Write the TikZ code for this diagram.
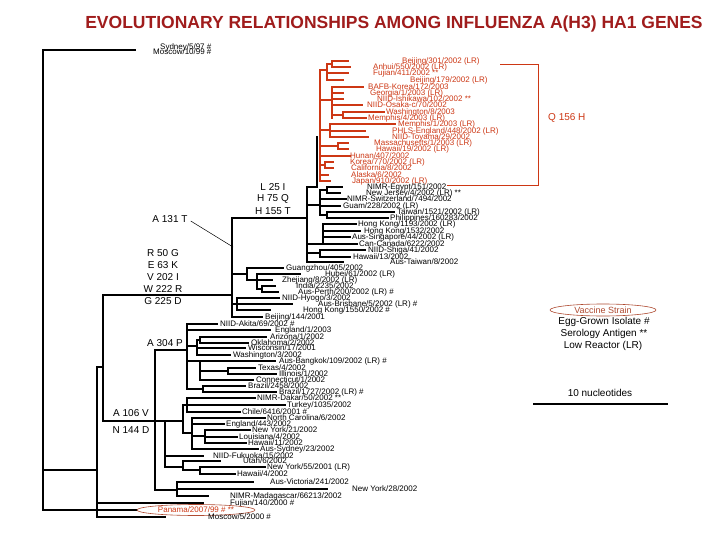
\documentclass[tikz,border=0pt]{standalone}
\usepackage{fontspec}
\setmainfont{Liberation Sans}
\usetikzlibrary{shapes.geometric}
\definecolor{tred}{RGB}{205,55,20}
\definecolor{ttitle}{RGB}{160,28,28}
\definecolor{tbrown}{RGB}{175,75,50}
\newcommand\Bv[3]{\draw[bl] (#1,#2) -- (#1,#3);}
\newcommand\Bh[3]{\draw[bl] (#1,#3) -- (#2,#3);}
\newcommand\Rv[3]{\draw[rd] (#1,#2) -- (#1,#3);}
\newcommand\Rh[3]{\draw[rd] (#1,#3) -- (#2,#3);}
\begin{document}
\begin{tikzpicture}[x=1pt,y=-1pt,
  bl/.style={line width=2.5pt, line cap=rect, black},
  rd/.style={line width=2pt, line cap=rect, tred},
  lf/.style={font=\fontsize{8}{8}\selectfont, anchor=west, inner sep=0pt},
  lfr/.style={lf, text=tred},
  mut/.style={font=\fontsize{10}{10}\selectfont, inner sep=0pt}]
\useasboundingbox[fill=white] (0,0) rectangle (720,540);
\node[font=\bfseries\fontsize{17.5}{17.5}\selectfont, text=ttitle] (title) at (394,24) {EVOLUTIONARY RELATIONSHIPS AMONG INFLUENZA A(H3) HA1 GENES};
% ---------- backbone ----------
\Bv{43}{50}{510}
\Bh{43}{135}{50}
\Bh{43}{137}{510}
\Bh{43}{97}{470}
\Bv{97}{367}{517}
\Bh{97}{203}{503}
\Bh{97}{165}{517}
\Bh{97}{103}{367}
\Bv{103}{295}{421}
\Bh{103}{232}{295}
\Bh{103}{165}{421}
% ---------- node M ----------
\Bv{232}{218}{317}
\Bh{232}{307}{218}
\Bh{232}{247}{274}
\Bv{247}{268}{280}
\Bh{247}{283}{268}
\Bh{247}{257}{280}
\Bv{257}{274}{289}
\Bh{257}{300}{274}
\Bh{257}{272}{280}
\Bh{257}{262}{289}
\Bv{262}{286}{292}
\Bh{262}{275}{286}
\Bh{262}{278}{292}
\Bh{232}{237}{304}
\Bv{237}{298}{310}
\Bh{237}{279}{298}
\Bh{237}{292}{304}
\Bh{237}{270}{310}
\Bh{232}{262}{317}
% ---------- node L ----------
\Bv{307}{187}{262}
\Bh{307}{317}{187}
\Bv{317}{137}{187}
\Bh{307}{320}{205}
\Bv{320}{190}{215}
\Bh{320}{327}{190}
\Bv{327}{187}{193}
\Bh{327}{342}{187}
\Bh{327}{340}{193}
\Bh{320}{346}{199}
\Bh{320}{340}{206}
\Bh{320}{327}{215}
\Bv{327}{212}{218}
\Bh{327}{394}{212}
\Bh{327}{388}{218}
\Bh{307}{323}{244}
\Bv{323}{224}{244}
\Bh{323}{356}{224}
\Bh{323}{360}{231}
\Bh{323}{350}{237}
\Bh{323}{357}{244}
\Bh{307}{320}{253}
\Bv{320}{250}{257}
\Bh{320}{365}{250}
\Bh{320}{350}{257}
\Bh{307}{343}{262}
% ---------- red clade ----------
\Rv{320}{70}{181}
\Rh{320}{327}{70}
\Rv{327}{64}{80}
\Rh{327}{332}{64}
\Rv{332}{61}{67}
\Rh{332}{348}{61}
\Rh{332}{350}{67}
\Rh{327}{348}{73}
\Rh{327}{343}{80}
\Rh{320}{332}{100}
\Rv{332}{87}{118}
\Rh{332}{363}{87}
\Rh{332}{343}{93}
\Rh{332}{343}{99}
\Rh{332}{362}{105}
\Rh{332}{343}{115}
\Rv{343}{112}{118}
\Rh{343}{384}{112}
\Rh{343}{366}{118}
\Rh{320}{330}{130}
\Rv{330}{124}{137}
\Rh{330}{395}{124}
\Rh{330}{365}{131}
\Rh{330}{368}{137}
\Rh{320}{338}{146}
\Rv{338}{143}{149}
\Rh{338}{348}{143}
\Rh{338}{348}{149}
\Rh{320}{350}{156}
\Rh{320}{325}{165}
\Rv{325}{162}{168}
\Rh{325}{333}{162}
\Rh{325}{333}{168}
\Rh{320}{328}{175}
\Rh{320}{330}{181}
% ---------- lower clades ----------
\Bv{155}{350}{490}
\Bh{155}{187}{350}
\Bv{187}{324}{389}
\Bh{187}{217}{324}
\Bh{187}{270}{330}
\Bh{187}{197}{346}
\Bv{197}{340}{355}
\Bh{197}{200}{340}
\Bv{200}{337}{343}
\Bh{200}{266}{337}
\Bh{200}{248}{343}
\Bh{197}{245}{348}
\Bh{197}{230}{355}
\Bh{187}{200}{361}
\Bv{200}{361}{380}
\Bh{200}{275}{361}
\Bh{200}{228}{371}
\Bv{228}{368}{374}
\Bh{228}{255}{368}
\Bh{228}{276}{374}
\Bh{200}{253}{380}
\Bh{187}{203}{389}
\Bv{203}{386}{392}
\Bh{203}{245}{386}
\Bh{203}{276}{392}
\Bv{165}{421}{467}
\Bh{165}{183}{421}
\Bv{183}{405}{433}
\Bh{183}{187}{405}
\Bv{187}{398}{412}
\Bh{187}{255}{398}
\Bh{187}{285}{405}
\Bh{187}{240}{412}
\Bh{183}{192}{433}
\Bv{192}{418}{449}
\Bh{192}{265}{418}
\Bh{192}{224}{424}
\Bh{192}{205}{436}
\Bv{205}{430}{443}
\Bh{205}{250}{430}
\Bh{205}{237}{437}
\Bh{205}{246}{443}
\Bh{192}{258}{449}
\Bh{165}{203}{456}
\Bh{165}{183}{467}
\Bv{183}{461}{470}
\Bh{183}{220}{461}
\Bh{183}{200}{470}
\Bv{200}{467}{474}
\Bh{200}{265}{467}
\Bh{200}{235}{474}
\Bh{155}{177}{490}
\Bv{177}{482}{496}
\Bh{177}{253}{482}
\Bh{177}{327}{489}
\Bh{177}{208}{496}
% ---------- labels ----------
\node[lf] (syd) at (160,47) {Sydney/5/97 \#};
\node[lf] (mos) at (153,52) {Moscow/10/99 \#};
\node[lfr] (n1) at (402,61) {Beijing/301/2002 (LR)};
\node[lfr] (n2) at (373,67) {Anhui/550/2002 (LR)};
\node[lfr] (n3) at (373,73) {Fujian/411/2002 **};
\node[lfr] (n4) at (410,80) {Beijing/179/2002 (LR)};
\node[lfr] (n5) at (368,87) {BAFB-Korea/172/2003};
\node[lfr] (n6) at (370,93) {Georgia/1/2003 (LR)};
\node[lfr] (n7) at (377,99) {NIID-Ishikawa/102/2002 **};
\node[lfr] (n8) at (367,105) {NIID-Osaka-c/70/2002};
\node[lfr] (n9) at (386,112) {Washington/8/2003};
\node[lfr] (n10) at (368,118) {Memphis/4/2003 (LR)};
\node[lfr] (n11) at (398,124) {Memphis/1/2003 (LR)};
\node[lfr] (n12) at (392,131) {PHLS-England/448/2002 (LR)};
\node[lfr] (n13) at (392,137) {NIID-Toyama/29/2002};
\node[lfr] (n14) at (374,143) {Massachusetts/1/2003 (LR)};
\node[lfr] (n15) at (376,149) {Hawaii/19/2002 (LR)};
\node[lfr] (n16) at (350,156) {Hunan/407/2002};
\node[lfr] (n17) at (350,162) {Korea/770/2002 (LR)};
\node[lfr] (n18) at (351,168) {California/8/2002};
\node[lfr] (n19) at (351,175) {Alaska/6/2002};
\node[lfr] (n20) at (352,181) {Japan/910/2002 (LR)};
\node[lf] (n21) at (367,187) {NIMR-Egypt/151/2002};
\node[lf] (n22) at (366,193) {New Jersey/4/2002 (LR) **};
\node[lf] (n23) at (347,199) {NIMR-Switzerland/7494/2002};
\node[lf] (n24) at (343,206) {Guam/228/2002 (LR)};
\node[lf] (n25) at (397,212) {Taiwan/1521/2002 (LR)};
\node[lf] (n26) at (390,218) {Philippines/160283/2002};
\node[lf] (n27) at (358,224) {Hong Kong/1193/2002 (LR)};
\node[lf] (n28) at (364,231) {Hong Kong/1532/2002};
\node[lf] (n29) at (352,237) {Aus-Singapore/44/2002 (LR)};
\node[lf] (n30) at (359,244) {Can-Canada/6222/2002};
\node[lf] (n31) at (368,250) {NIID-Shiga/41/2002};
\node[lf] (n32) at (353,257) {Hawaii/13/2002};
\node[lf] (n33) at (390,262) {Aus-Taiwan/8/2002};
\node[lf] (n34) at (286,268) {Guangzhou/405/2002};
\node[lf] (n35) at (325,274) {Hubei/61/2002 (LR)};
\node[lf] (n36) at (282,280) {Zhejiang/8/2002 (LR)};
\node[lf] (n37) at (296,286) {India/2235/2002};
\node[lf] (n38) at (298,292) {Aus-Perth/200/2002 (LR) \#};
\node[lf] (n39) at (282,298) {NIID-Hyogo/3/2002};
\node[lf] (n40) at (318,304) {Aus-Brisbane/5/2002 (LR) \#};
\node[lf] (n41) at (303,310) {Hong Kong/1550/2002 \#};
\node[lf] (n42) at (265,317) {Beijing/144/2001};
\node[lf] (n43) at (220,324) {NIID-Akita/69/2002 \#};
\node[lf] (n44) at (275,330) {England/1/2003};
\node[lf] (n45) at (270,337) {Arizona/1/2002};
\node[lf] (n46) at (251,343) {Oklahoma/2/2002};
\node[lf] (n47) at (248,348) {Wisconsin/17/2001};
\node[lf] (n48) at (233,355) {Washington/3/2002};
\node[lf] (n49) at (279,361) {Aus-Bangkok/109/2002 (LR) \#};
\node[lf] (n50) at (258,368) {Texas/4/2002};
\node[lf] (n51) at (279,374) {Illinois/1/2002};
\node[lf] (n52) at (256,380) {Connecticut/1/2002};
\node[lf] (n53) at (248,386) {Brazil/2458/2002};
\node[lf] (n54) at (279,392) {Brazil/1727/2002 (LR) \#};
\node[lf] (n55) at (257,398) {NIMR-Dakar/50/2002 **};
\node[lf] (n56) at (287,405) {Turkey/1035/2002};
\node[lf] (n57) at (242,412) {Chile/6416/2001 \#};
\node[lf] (n58) at (267,418) {North Carolina/6/2002};
\node[lf] (n59) at (226,424) {England/443/2002};
\node[lf] (n60) at (252,430) {New York/21/2002};
\node[lf] (n61) at (239,437) {Louisiana/4/2002};
\node[lf] (n62) at (248,443) {Hawaii/11/2002};
\node[lf] (n63) at (260,449) {Aus-Sydney/23/2002};
\node[lf] (n64) at (213,456) {NIID-Fukuoka/15/2002};
\node[lf] (n65) at (243,461) {Utah/6/2002};
\node[lf] (n66) at (267,467) {New York/55/2001 (LR)};
\node[lf] (n67) at (237,474) {Hawaii/4/2002};
\node[lf] (n68) at (270,482) {Aus-Victoria/241/2002};
\node[lf] (n69) at (352,489) {New York/28/2002};
\node[lf] (n70) at (230,496) {NIMR-Madagascar/66213/2002};
\node[lf] (n71) at (230,503) {Fujian/140/2000 \#};
\node[ellipse, draw=tbrown, line width=0.6pt, fill=white, minimum width=118pt, minimum height=11pt, inner sep=0pt] (pan) at (196,510) {};
\node[lf, anchor=center, text=tred] (n72) at (pan.center) {Panama/2007/99 \# **};
\node[lf] (n73) at (208,517) {Moscow/5/2000 \#};
% ---------- mutation labels ----------
\node[mut] (a131) at (170,219) {A 131 T};
\coordinate (a131t) at (233,247);
\draw[line width=0.5pt] (a131.east) ++(3,2) -- (a131t);
\node[mut] (m1) at (163,253) {R 50 G};
\node[mut] (m2) at (163,265) {E 63 K};
\node[mut] (m3) at (163,277) {V 202 I};
\node[mut] (m4) at (163,289) {W 222 R};
\node[mut] (m5) at (163,301) {G 225 D};
\node[mut] (l1) at (273,187) {L 25 I};
\node[mut] (l2) at (273,199) {H 75 Q};
\node[mut] (l3) at (273,211) {H 155 T};
\node[mut] (a304) at (165,343) {A 304 P};
\node[mut] (a106) at (131,413) {A 106 V};
\node[mut] (n144) at (131,430) {N 144 D};
% ---------- Q 156 H bracket ----------
\coordinate (qa) at (500,64);
\coordinate (qb) at (538,64);
\coordinate (qc) at (538,185);
\coordinate (qd) at (447,185);
\draw[tred, line width=0.8pt] (qa) -- (qb) -- (qc) -- (qd);
\node[mut, anchor=west, text=tred] (q156) at (548,118) {Q 156 H};
% ---------- legend ----------
\node[ellipse, draw=tbrown, line width=0.6pt, minimum width=106pt, minimum height=12pt, inner sep=0pt] (vs) at (603,310) {};
\node[font=\fontsize{9}{9}\selectfont, text=tbrown, inner sep=0pt] (vst) at (vs.center) {Vaccine Strain};
\node[mut] (lg1) at (604,322) {Egg-Grown Isolate \#};
\node[mut] (lg2) at (604,334) {Serology Antigen **};
\node[mut] (lg3) at (603,346) {Low Reactor (LR)};
\node[mut] (sc) at (600,393) {10 nucleotides};
\coordinate (sa) at (533,404);
\coordinate (sb) at (668,404);
\draw[line width=2.6pt] (sa) -- (sb);
\end{tikzpicture}
\end{document}
